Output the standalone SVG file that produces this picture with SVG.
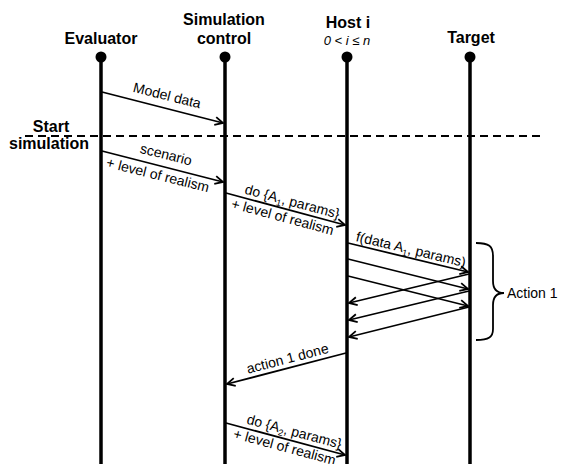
<svg xmlns="http://www.w3.org/2000/svg" width="565" height="464" viewBox="0 0 565 464">
<defs>
<style>
text{font-family:"Liberation Sans",Arial,sans-serif;fill:#000}
.hd{font-size:16px;font-weight:bold;text-anchor:middle}
.lb{font-size:14px;text-anchor:middle}
.it{font-size:13px;font-style:italic;text-anchor:middle}
.life{stroke:#000;stroke-width:3.5;fill:none}
.msg{stroke:#000;stroke-width:1.8;fill:none;marker-end:url(#arr)}
.sub{font-size:9px}
</style>
<marker id="arr" markerUnits="userSpaceOnUse" markerWidth="12" markerHeight="12" refX="9" refY="5" orient="auto">
<path d="M1,1 L9,5 L1,9" fill="none" stroke="#000" stroke-width="1.8"/>
</marker>
</defs>
<rect width="565" height="464" fill="#fff"/>
<g id="evaluator">
<text class="hd" x="101" y="44">Evaluator</text>
<circle cx="101" cy="57" r="5.5"/>
<line class="life" x1="101" y1="57" x2="101" y2="464"/>
</g>
<g id="simulation-control">
<text class="hd" x="224" y="25">Simulation</text>
<text class="hd" x="224" y="44">control</text>
<circle cx="225" cy="57" r="5.5"/>
<line class="life" x1="225" y1="57" x2="225" y2="464"/>
</g>
<g id="host">
<text class="hd" x="348" y="28">Host i</text>
<text class="it" x="347" y="45">0 &lt; i ≤ n</text>
<circle cx="347" cy="57" r="5.5"/>
<line class="life" x1="347" y1="57" x2="347" y2="464"/>
</g>
<g id="target">
<text class="hd" x="471" y="43">Target</text>
<circle cx="470" cy="57" r="5.5"/>
<line class="life" x1="470" y1="57" x2="470" y2="464"/>
</g>
<g id="start-simulation">
<line x1="25" y1="136" x2="540" y2="136" stroke="#000" stroke-width="2" stroke-dasharray="8,5"/>
<text class="hd" x="51" y="132">Start</text>
<text class="hd" x="49" y="149">simulation</text>
</g>
<g id="action1-brace">
<path d="M476,243 C489,243 493,246 493,256 L493,281 C493,289 497,293 504,293 C497,293 493,297 493,305 L493,329 C493,337 489,340 476,340" fill="none" stroke="#000" stroke-width="1.8"/>
<text x="507" y="298" style="font-size:14px">Action 1</text>
</g>
<g id="connectors">
<line class="msg" x1="102" y1="92" x2="223" y2="123"/>
<line class="msg" x1="102" y1="151" x2="223" y2="182"/>
<line class="msg" x1="226" y1="193" x2="345" y2="225"/>
<line class="msg" x1="348" y1="243" x2="468" y2="272"/>
<line class="msg" x1="348" y1="259" x2="468" y2="289"/>
<line class="msg" x1="348" y1="276" x2="468" y2="306"/>
<line class="msg" x1="469" y1="274" x2="349" y2="303"/>
<line class="msg" x1="469" y1="291" x2="349" y2="320"/>
<line class="msg" x1="469" y1="307" x2="349" y2="337"/>
<line class="msg" x1="346" y1="353" x2="227" y2="384"/>
<line class="msg" x1="226" y1="423" x2="345" y2="455"/>
</g>
<g id="labels">
<text class="lb" transform="translate(165,104) rotate(14)" y="-4">Model data</text>
<text class="lb" transform="translate(164,163) rotate(14)" y="-4">scenario</text>
<text class="lb" transform="translate(160,166) rotate(14)" y="14">+ level of realism</text>
<text class="lb" transform="translate(290,210) rotate(15)" y="-4">do {A<tspan class="sub" dy="3">1</tspan><tspan dy="-3">, params}</tspan></text>
<text class="lb" transform="translate(285,208) rotate(15)" y="14">+ level of realism</text>
<text class="lb" transform="translate(409,258) rotate(13.5)" y="-4">f(data A<tspan class="sub" dy="3">1</tspan><tspan dy="-3">, params)</tspan></text>
<text class="lb" transform="translate(290,368) rotate(-14.5)" y="-5">action 1 done</text>
<text class="lb" transform="translate(292,440) rotate(15)" y="-4">do {A<tspan class="sub" dy="3">2</tspan><tspan dy="-3">, params}</tspan></text>
<text class="lb" transform="translate(287,438) rotate(15)" y="14">+ level of realism</text>
</g>
</svg>
